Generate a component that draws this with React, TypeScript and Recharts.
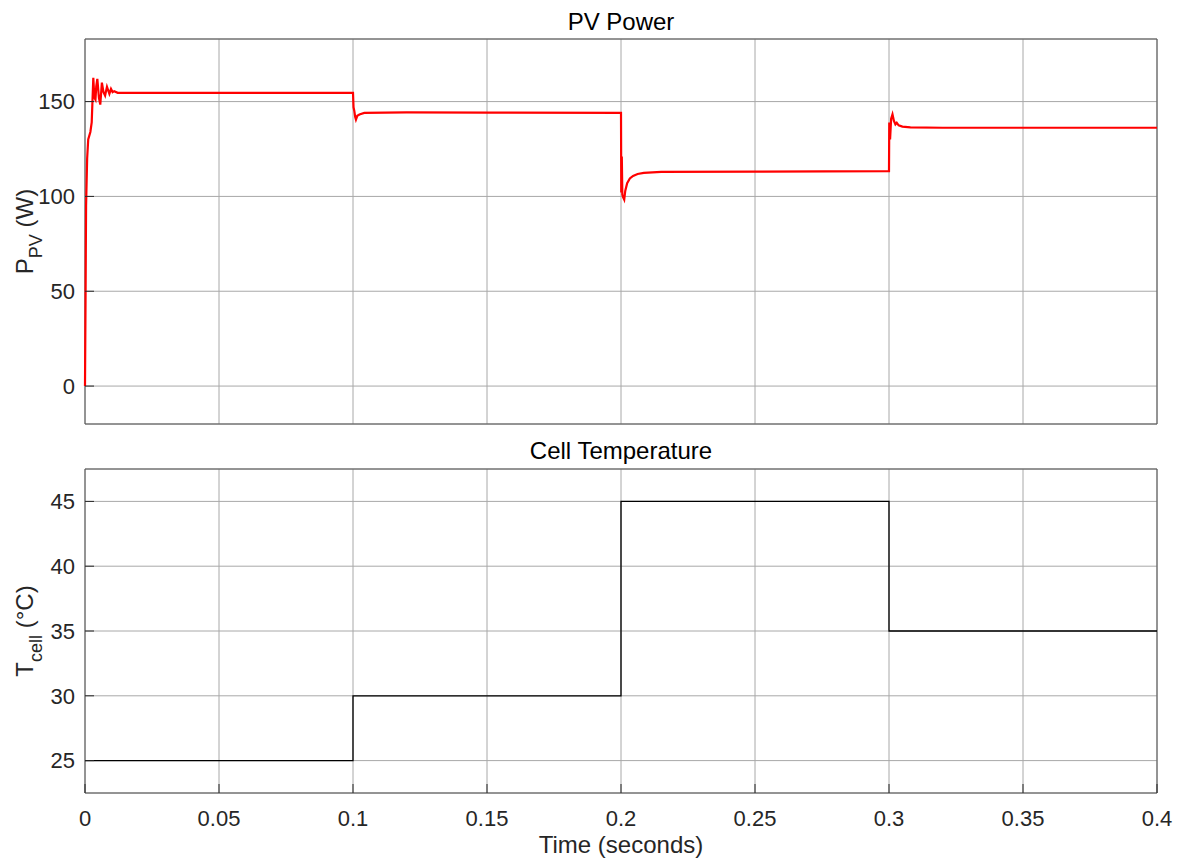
import { LineChart, Line, XAxis, YAxis, CartesianGrid, ReferenceArea } from "recharts"

const FONT = '"Liberation Sans", Arial, Helvetica, sans-serif'
const TEXT = "#262626"
const GRID = "#a8a8a8"
const BOX = "#555555"

const timeTicks = [0, 0.05, 0.1, 0.15, 0.2, 0.25, 0.3, 0.35, 0.4]
const powerTicks = [0, 50, 100, 150]
const tempTicks = [25, 30, 35, 40, 45]

// PV power trace (W)
const pvTime = [
  0, 0.0002, 0.0004, 0.0008, 0.0012, 0.002, 0.0025, 0.0031, 0.0035, 0.0039,
  0.0042, 0.0046, 0.0052, 0.0057, 0.0063, 0.0069, 0.0075, 0.0082, 0.0091, 0.0097,
  0.0103, 0.0109, 0.0122, 0.05, 0.0999,
  0.1, 0.1002, 0.1005, 0.1008, 0.1011, 0.1016, 0.1024, 0.1042, 0.12, 0.15, 0.1999,
  0.2, 0.2001, 0.2003, 0.2005, 0.2008, 0.2012, 0.2016, 0.2023, 0.2033, 0.2045,
  0.2062, 0.2085, 0.215, 0.25, 0.2999,
  0.3, 0.3001, 0.3004, 0.3008, 0.3013, 0.3018, 0.3024, 0.3029, 0.3036, 0.305,
  0.308, 0.32, 0.4,
]
const pvPower = [
  0, 45, 95, 120, 130, 134, 139, 162.5, 152, 151,
  158, 162, 152, 148.4, 160, 155, 153.2, 157.8, 154.1, 156.7,
  155, 155.5, 154.6, 154.6, 154.6,
  154.6, 147, 145, 142, 140.5, 142.5, 143.2, 144, 144.3, 144.2, 144,
  144, 102, 121, 101, 99.5, 98.3, 103, 107, 109.5, 110.8,
  111.8, 112.4, 112.9, 113.1, 113.3,
  113.3, 139, 130, 141, 143.3, 140, 138, 138.8, 137.5, 136.8,
  136.4, 136.2, 136.2,
]

// cell temperature steps (°C)
const cellTime = [0, 0.1, 0.2, 0.3, 0.4]
const cellTemp = [25, 30, 45, 35, 35]

const powerData = pvTime.map((t, i) => ({ t, p: pvPower[i] }))
const tempData = cellTime.map((t, i) => ({ t, c: cellTemp[i] }))

const Y_TICK_SIZE = 6
const Y_TICK_MARGIN = 4
const X_TICK_SIZE = 6
const X_TICK_MARGIN = 11
const INNER_TICK = 9

const YTick = (props: any) => {
  const { x, y, payload } = props
  const axisX = x + Y_TICK_SIZE + Y_TICK_MARGIN
  return (
    <g>
      <line x1={axisX} y1={y} x2={axisX + INNER_TICK} y2={y} stroke={TEXT} strokeWidth={1} />
      <text x={x} y={y} dy="0.355em" textAnchor="end" fill={TEXT} fontSize={22} fontFamily={FONT}>
        {payload.value}
      </text>
    </g>
  )
}

const XTick = (showText: boolean) => (props: any) => {
  const { x, y, payload } = props
  const axisY = y - X_TICK_SIZE - X_TICK_MARGIN
  return (
    <g>
      <line x1={x} y1={axisY} x2={x} y2={axisY - INNER_TICK} stroke={TEXT} strokeWidth={1} />
      {showText && (
        <text x={x} y={y} dy="0.71em" textAnchor="middle" fill={TEXT} fontSize={22} fontFamily={FONT}>
          {payload.value}
        </text>
      )}
    </g>
  )
}

const YLabel = (main: string, sub: string, unit: string) => (props: any) => {
  const vb = props.viewBox
  const cx = vb.x + 33
  const cy = vb.y + vb.height / 2
  return (
    <text
      x={cx}
      y={cy}
      transform={`rotate(-90, ${cx}, ${cy})`}
      textAnchor="middle"
      fill={TEXT}
      fontSize={24}
      fontFamily={FONT}
    >
      {main}
      <tspan fontSize={18} dy={9}>{sub}</tspan>
      <tspan dy={-9}>{" " + unit}</tspan>
    </text>
  )
}

export default function App() {
  return (
    <div style={{ position: "absolute", left: 0, top: 0, width: 1183, height: 862, background: "#fff" }}>
      <div style={{ position: "absolute", left: 0, top: 0 }}>
        <LineChart width={1183} height={430} data={powerData} margin={{ top: 39, right: 26, bottom: 6, left: 0 }}>
          <CartesianGrid stroke={GRID} strokeWidth={1} />
          <XAxis
            dataKey="t"
            type="number"
            domain={[0, 0.4]}
            ticks={timeTicks}
            height={0}
            axisLine={false}
            tickLine={false}
            tickSize={X_TICK_SIZE}
            tickMargin={X_TICK_MARGIN}
            tick={XTick(false)}
          />
          <YAxis
            type="number"
            domain={[-20, 183]}
            ticks={powerTicks}
            width={85}
            axisLine={false}
            tickLine={false}
            tickSize={Y_TICK_SIZE}
            tickMargin={Y_TICK_MARGIN}
            tick={YTick}
            label={{ content: YLabel("P", "PV", "(W)") }}
          />
          <ReferenceArea
            x1={0}
            x2={0.4}
            y1={-20}
            y2={183}
            fill="none"
            stroke={BOX}
            strokeWidth={1}
            label={{ value: "PV Power", position: "top", offset: 9, fontSize: 24, fill: "#000", fontFamily: FONT }}
          />
          <Line
            dataKey="p"
            type="linear"
            stroke="#ff0000"
            strokeWidth={2.2}
            dot={false}
            isAnimationActive={false}
          />
        </LineChart>
      </div>
      <div style={{ position: "absolute", left: 0, top: 430 }}>
        <LineChart width={1183} height={432} data={tempData} margin={{ top: 39, right: 26, bottom: 0, left: 0 }}>
          <CartesianGrid stroke={GRID} strokeWidth={1} />
          <XAxis
            dataKey="t"
            type="number"
            domain={[0, 0.4]}
            ticks={timeTicks}
            height={69}
            axisLine={false}
            tickLine={false}
            tickSize={X_TICK_SIZE}
            tickMargin={X_TICK_MARGIN}
            tick={XTick(true)}
            label={{ value: "Time (seconds)", position: "insideBottom", offset: 9, fontSize: 24, fill: TEXT, fontFamily: FONT }}
          />
          <YAxis
            type="number"
            domain={[22.5, 47.5]}
            ticks={tempTicks}
            width={85}
            axisLine={false}
            tickLine={false}
            tickSize={Y_TICK_SIZE}
            tickMargin={Y_TICK_MARGIN}
            tick={YTick}
            label={{ content: YLabel("T", "cell", "(°C)") }}
          />
          <ReferenceArea
            x1={0}
            x2={0.4}
            y1={22.5}
            y2={47.5}
            fill="none"
            stroke={BOX}
            strokeWidth={1}
            label={{ value: "Cell Temperature", position: "top", offset: 10, fontSize: 24, fill: "#000", fontFamily: FONT }}
          />
          <Line
            dataKey="c"
            type="stepAfter"
            stroke="#000000"
            strokeWidth={1.3}
            dot={false}
            isAnimationActive={false}
          />
        </LineChart>
      </div>
    </div>
  )
}
